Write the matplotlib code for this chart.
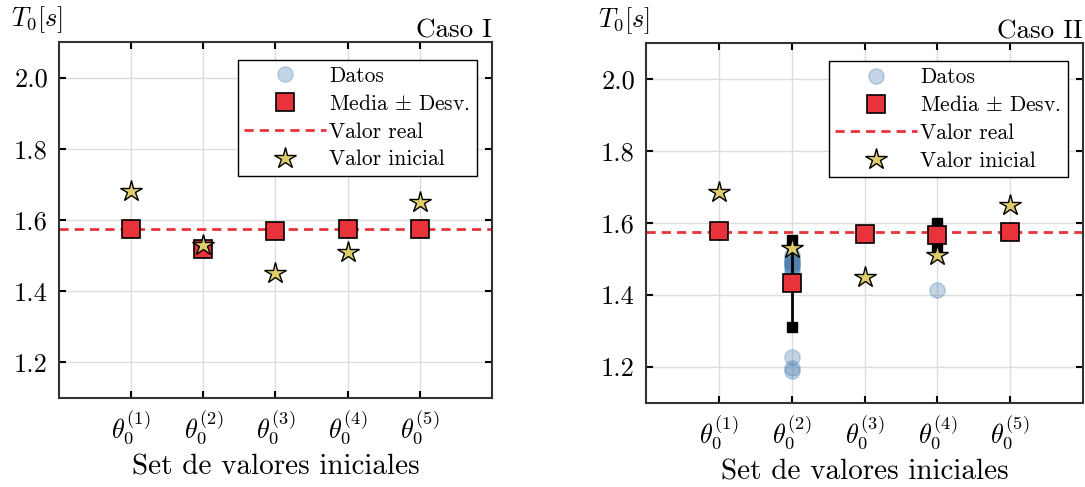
# plot.py
# Periodo estimado T0 para cada set de valores iniciales (Caso I y Caso II)

import numpy as np
import matplotlib
matplotlib.use('agg')
import matplotlib.pyplot as plt

### Datos ###
sets = [1, 2, 3, 4, 5]
tick_labels = [r'$\theta_0^{(%d)}$' % i for i in sets]
valor_real = 1.575

# Caso I
datos_c1 = [
    [1.575, 1.574, 1.576, 1.575, 1.575, 1.574],
    [1.518, 1.517, 1.519, 1.518, 1.518, 1.517],
    [1.569, 1.570, 1.569, 1.568, 1.569, 1.570],
    [1.575, 1.576, 1.575, 1.574, 1.575, 1.575],
    [1.575, 1.575, 1.574, 1.576, 1.575, 1.575],
]
media_c1 = [1.575, 1.518, 1.569, 1.575, 1.575]
desv_c1 = [0.001, 0.001, 0.001, 0.001, 0.001]
inicial_c1 = [1.68, 1.53, 1.45, 1.51, 1.65]

# Caso II
datos_c2 = [
    [1.577, 1.576, 1.577, 1.578, 1.577, 1.576],
    [1.51, 1.50, 1.49, 1.49, 1.48, 1.47, 1.50, 1.49, 1.48, 1.46, 1.228, 1.198, 1.19],
    [1.571, 1.570, 1.572, 1.571, 1.570, 1.571],
    [1.578, 1.577, 1.579, 1.578, 1.577, 1.578, 1.415],
    [1.575, 1.576, 1.575, 1.574, 1.575, 1.575],
]
media_c2 = [1.577, 1.433, 1.570, 1.567, 1.575]
desv_c2 = [0.001, 0.121, 0.001, 0.033, 0.001]
inicial_c2 = [1.685, 1.532, 1.45, 1.51, 1.65]

### Estilo ###
plt.rcParams['font.family'] = 'serif'
plt.rcParams['font.serif'] = ['cmr10']
plt.rcParams['mathtext.fontset'] = 'cm'
plt.rcParams['axes.formatter.use_mathtext'] = True
plt.rcParams['axes.unicode_minus'] = False

ROJO = '#e8333a'
AZUL = '#4a7fb0'
ESTRELLA = '#dfcd6c'


def panel(ax, datos, media, desv, inicial, titulo):
    for x, d in zip(sets, datos):
        ax.plot([x] * len(d), d, 'o', ms=11, color=AZUL, alpha=0.33,
                mec=AZUL, zorder=2)
    ax.plot([], [], 'o', ms=11, color=AZUL, alpha=0.33, mec=AZUL, label='Datos')

    # barras de desviacion (solo visibles si son grandes)
    for x, m, s in zip(sets, media, desv):
        if s > 0.01:
            ax.plot([x, x], [m - s, m + s], color='k', lw=2, zorder=3)
            ax.plot([x, x], [m - s, m + s], 's', color='k', ms=7, zorder=3)

    ax.plot(sets, media, 's', ms=12.5, color=ROJO, mec='k', mew=1.2, ls='none',
            zorder=4, label=r'Media $\pm$ Desv.')
    ax.plot([0, 6], [valor_real, valor_real], color=ROJO, ls='--', lw=2,
            dashes=(3.3, 2.2), zorder=1, label='Valor real')
    ax.plot(sets, inicial, '*', ms=16, color=ESTRELLA, mec='k', mew=1.0,
            ls='none', zorder=5, label='Valor inicial')

    ax.set_xlim(0, 6)
    ax.set_ylim(1.1, 2.1)
    ax.set_xticks(sets)
    ax.set_xticklabels(tick_labels, fontsize=19)
    ax.set_yticks([1.2, 1.4, 1.6, 1.8, 2.0])
    ax.set_yticklabels(['1.2', '1.4', '1.6', '1.8', '2.0'], fontsize=19)
    ax.tick_params(direction='in', top=True, right=True, length=5, width=1.5,
                   color='k', pad=8)
    ax.grid(True, color='#dddddd', lw=1, zorder=0)
    ax.set_axisbelow(True)
    for sp in ax.spines.values():
        sp.set_color('#333333')
        sp.set_linewidth(1.5)
    ax.set_xlabel('Set de valores iniciales', fontsize=21, labelpad=5)
    ax.text(-0.11, 1.02, r'$T_0[s]$', transform=ax.transAxes, fontsize=19,
            ha='left', va='bottom')
    ax.text(1.0, 0.998, titulo, transform=ax.transAxes, fontsize=19.5,
            ha='right', va='bottom')
    leg = ax.legend(loc='upper right', bbox_to_anchor=(0.965, 0.95),
                    fontsize=15.5, fancybox=False, framealpha=1, edgecolor='k',
                    handlelength=3.8, handletextpad=0.15, labelspacing=0.38,
                    borderpad=0.3, borderaxespad=0)
    leg.get_frame().set_linewidth(1.0)


fig = plt.figure(figsize=(10.85, 4.87), dpi=100)
ax1 = fig.add_axes([0.0544, 0.1828, 0.399, 0.731])
ax2 = fig.add_axes([0.5954, 0.1725, 0.4028, 0.739])

panel(ax1, datos_c1, media_c1, desv_c1, inicial_c1, 'Caso I')
panel(ax2, datos_c2, media_c2, desv_c2, inicial_c2, 'Caso II')

plt.savefig('out.png', dpi=100)
plt.close(fig)
